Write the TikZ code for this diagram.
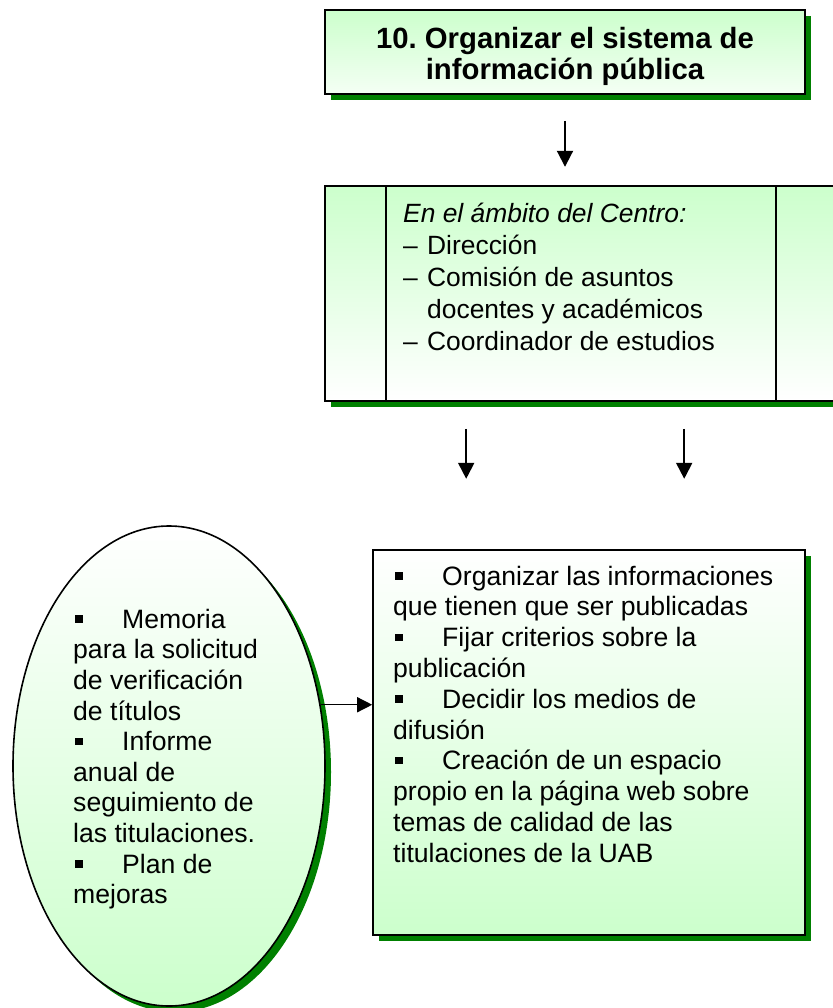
\documentclass[tikz,border=0pt]{standalone}
\usepackage{fontspec}
\setmainfont{Liberation Sans}
\usetikzlibrary{shapes.geometric,shadows,arrows.meta}
\frenchspacing
\definecolor{shadowgreen}{RGB}{0,128,0}
\definecolor{palegreen}{RGB}{204,255,204}
\definecolor{whitegreen}{RGB}{244,255,244}
\newcommand\bulitem{\hspace*{2pt}\rule[5.5pt]{7.5pt}{7.5pt}\hspace{39.5pt}}
\newcommand\dashitem{\makebox[24pt][l]{–}}
\tikzset{
  shd/.style={drop shadow={shadow xshift=6pt,shadow yshift=-6pt,fill=shadowgreen,opacity=1}},
  boxshape/.style={draw=black,line width=1.6pt,inner sep=0pt,shd},
  txt/.style={inner sep=0pt,align=left,anchor=north west},
  arr/.style={line width=2pt,-{Triangle[length=16pt,width=16pt]}},
  harr/.style={line width=1.4pt,-{Triangle[length=15pt,width=15pt]}}
}
\begin{document}
\begin{tikzpicture}[x=1pt,y=-1pt]
\useasboundingbox (0,0) rectangle (832,1008);
% top box
\node[boxshape,rectangle,minimum width=480pt,minimum height=84pt,top color=palegreen,bottom color=whitegreen] (top) at (565,52) {};
\node[inner sep=0pt,align=center,anchor=north,font=\bfseries\fontsize{29.3}{31}\selectfont] (toptxt) at (565,26.8)
  {\strut 10. Organizar el sistema de\\información pública};
% middle box
\node[boxshape,rectangle,minimum width=511pt,minimum height=215pt,top color=palegreen,bottom color=white] (mid) at (580.5,293.5) {};
\draw[line width=1.6pt] ([xshift=62pt]mid.north west) -- ([xshift=62pt]mid.south west);
\draw[line width=1.6pt] ([xshift=452pt]mid.north west) -- ([xshift=452pt]mid.south west);
\node[txt,font=\fontsize{26.4}{32}\selectfont] (midtxt) at (403,199.6)
  {\strut\textit{En el ámbito del Centro:}\\
   \dashitem Dirección\\
   \dashitem Comisión de asuntos\\
   \hspace*{24pt}docentes y académicos\\
   \dashitem Coordinador de estudios};
% ellipse
\node[boxshape,ellipse,minimum width=312pt,minimum height=480pt,top color=white,bottom color=palegreen] (ell) at (169,766) {};
\node[txt,font=\fontsize{26.6}{30.6}\selectfont] (elltxt) at (73,606.6)
  {\strut\bulitem Memoria\\
   para la solicitud\\
   de verificación\\
   de títulos\\
   \bulitem Informe\\
   anual de\\
   seguimiento de\\
   las titulaciones.\\
   \bulitem Plan de\\
   mejoras};
% right box
\node[boxshape,rectangle,minimum width=432pt,minimum height=385pt,top color=white,bottom color=palegreen] (rbox) at (589,742.5) {};
\node[txt,font=\fontsize{26.6}{30.8}\selectfont] (rtxt) at (393,563.4)
  {\strut\bulitem Organizar las informaciones\\
   que tienen que ser publicadas\\
   \bulitem Fijar criterios sobre la\\
   publicación\\
   \bulitem Decidir los medios de\\
   difusión\\
   \bulitem Creación de un espacio\\
   propio en la página web sobre\\
   temas de calidad de las\\
   titulaciones de la UAB};
% arrows
\draw[arr] ([yshift=-26pt]top.south) -- ++(0,46);
\draw[arr] ([xshift=142pt,yshift=-27pt]mid.south west) -- ++(0,50);
\draw[arr] ([xshift=360pt,yshift=-27pt]mid.south west) -- ++(0,50);
\draw[harr] (ell.22.5) -- (ell.22.5 -| rbox.west);
\end{tikzpicture}
\end{document}
